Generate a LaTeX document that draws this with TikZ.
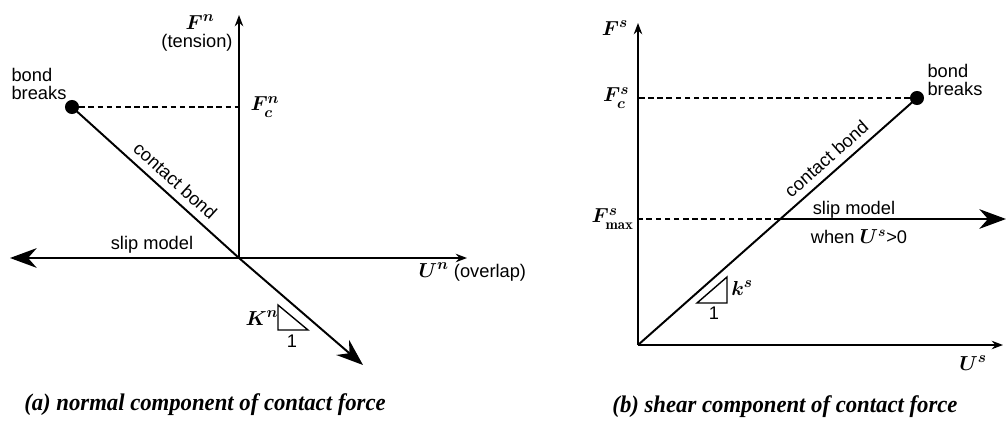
\documentclass[tikz,border=0pt]{standalone}
\usepackage{fontspec}
\setsansfont{Liberation Sans}
\newfontfamily\capfont[FakeStretch=0.95]{Liberation Serif}
\usetikzlibrary{arrows.meta,positioning}

\begin{document}
\begin{tikzpicture}[x=0.025cm, y=-0.025cm,
  axis/.style={line width=1.4pt, -{Stealth[length=8pt, width=6pt]}},
  bigarrow/.style={line width=1.4pt, -{Stealth[length=19pt, width=14pt]}},
  guide/.style={line width=1.1pt, dash pattern=on 4pt off 2.5pt},
  bond/.style={line width=1.4pt},
  txt/.style={font=\sffamily\fontsize{13}{12.5}\selectfont, inner sep=1pt},
  sym/.style={font=\fontsize{15}{16}\selectfont\boldmath, inner sep=1pt},
  slopetri/.style={line width=1pt},
  breakdot/.style={circle, fill, inner sep=0pt, minimum size=10pt},
  caption/.style={font=\capfont\bfseries\itshape\fontsize{17}{19}\selectfont}]

  \useasboundingbox (0,0) rectangle (1008,427);

  % (a) NORMAL COMPONENT - left
  \coordinate (oA) at (239,258);
  \coordinate (fA) at (239,15);
  \coordinate (uA) at (467,258);
  \coordinate (sA) at (10,258);
  \coordinate (cA) at (239,107);
  \coordinate (kA) at (363,365);
  \node[breakdot] (bA) at (72,107) {};

  \draw[axis] (oA) -- (fA);
  \draw[axis] (oA) -- (uA);
  \draw[bigarrow] (oA) -- node[txt, pos=0.38, above=2pt] (slipA) {slip model} (sA);
  \draw[bond] (bA.center) -- node[txt, sloped, above=4pt, pos=0.56] (bondA) {contact bond} (oA);
  \draw[bigarrow] (oA) -- (kA);
  \draw[guide] (bA) -- (cA);

  \node[sym] (FnA) at (200,22) {$F^n$};
  \node[txt] (tenA) at (197,43) {(tension)};
  \node[sym, right=7pt of cA] (FcA) {$F^n_c$};
  \node[txt, align=left] (brA) at (39,84) {bond\\breaks};
  \node[txt, anchor=west] (UA) at (417,272) {{\fontsize{15}{16}\selectfont\boldmath$U^n$} (overlap)};

  % stiffness triangle
  \draw[slopetri] (278,305) -- (278,330) -- (308,330) -- cycle;
  \node[sym] (KA) at (262,318) {$K^n$};
  \node[txt] (oneA) at (292,341) {1};

  % (b) SHEAR COMPONENT - right
  \coordinate (oB) at (638,345);
  \coordinate (fB) at (638,23);
  \coordinate (uB) at (1003,345);
  \coordinate (cB) at (638,98);
  \coordinate (mB) at (638,219);
  \coordinate (xB) at (780,219);
  \coordinate (sB) at (1006,219);
  \node[breakdot] (bB) at (917,98) {};

  \draw[axis] (oB) -- (fB);
  \draw[axis] (oB) -- (uB);
  \draw[bond] (oB) -- node[txt, sloped, above=4pt, pos=0.71] (bondB) {contact bond} (bB.center);
  \draw[guide] (bB) -- (cB);
  \draw[guide] (xB) -- (mB);
  \draw[bigarrow] (xB) -- (sB);

  \node[txt] (slipB) at (854,210) {slip model};
  \node[txt] (whenB) at (859,237) {when {\fontsize{14}{16}\selectfont\boldmath$U^s$}>0};
  \node[sym] (FsB) at (615,28) {$F^s$};
  \node[sym, left=5pt of cB] (FcB) {$F^s_c$};
  \node[sym, left=2pt of mB] (FmB) {$F^s_{\mathrm{max}}$};
  \node[txt, align=left] (brB) at (955,80) {bond\\breaks};
  \node[sym] (UB) at (973,363) {$U^s$};

  % stiffness triangle
  \draw[slopetri] (697,303) -- (727,303) -- (727,277) -- cycle;
  \node[sym] (kB) at (742,288) {$k^s$};
  \node[txt] (oneB) at (714,313) {1};

  % captions
  \node[caption] (capA) at (205,405) {(a) normal component of contact force};
  \node[caption] (capB) at (785,407) {(b) shear component of contact force};

\end{tikzpicture}
\end{document}
